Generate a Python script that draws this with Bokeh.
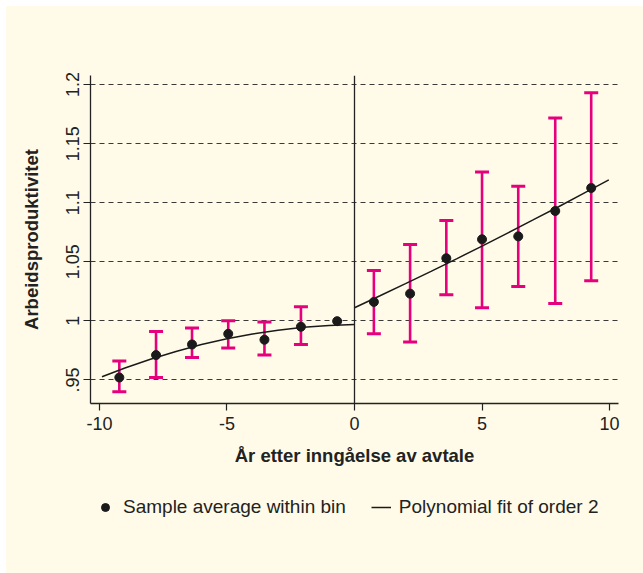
from bokeh.plotting import figure
from bokeh.models import (ColumnDataSource, Range1d, FixedTicker, Whisker, TeeHead,
                          Span, Legend, LegendItem, Spacer)
from bokeh.layouts import column, row
from bokeh.embed import file_html
from bokeh.resources import INLINE

# ---- data ----
bin_x = [-9.22, -7.78, -6.37, -4.95, -3.53, -2.10, -0.68,
         0.76, 2.18, 3.60, 5.00, 6.42, 7.87, 9.28]
bin_mean = [0.952, 0.971, 0.980, 0.989, 0.984, 0.995, 0.9997,
            1.016, 1.023, 1.053, 1.069, 1.0715, 1.093, 1.1125]
ci_upper = [0.966, 0.991, 0.994, 1.000, 0.999, 1.012, None,
            1.0426, 1.0647, 1.085, 1.126, 1.114, 1.1717, 1.193]
ci_lower = [0.940, 0.952, 0.969, 0.977, 0.971, 0.980, None,
            0.989, 0.982, 1.022, 1.011, 1.029, 1.0146, 1.034]

fit_left_x = [-9.9, -9, -8, -7, -6, -5, -4, -3, -2, -1, 0]
fit_left_y = [0.9527, 0.9601, 0.9675, 0.9741, 0.9799, 0.9848,
              0.9889, 0.9921, 0.9945, 0.9961, 0.9968]
fit_right_x = [0, 1, 2, 3, 4, 5, 6, 7, 8, 9, 9.97]
fit_right_y = [1.0111, 1.0212, 1.0315, 1.0419, 1.0525, 1.0633,
               1.0743, 1.0854, 1.0966, 1.1081, 1.1193]

y_ticks = [0.95, 1.0, 1.05, 1.1, 1.15, 1.2]
y_tick_labels = [".95", "1", "1.05", "1.1", "1.15", "1.2"]
x_ticks = [-10, -5, 0, 5, 10]
x_tick_labels = ["-10", "-5", "0", "5", "10"]

x_title = "År etter inngåelse av avtale"
y_title = "Arbeidsproduktivitet"
legend_labels = ["Sample average within bin", "Polynomial fit of order 2"]

BG = "#fffbe8"
PINK = "#e6007e"
INK = "#222222"
FONT = "Liberation Sans"

p = figure(width=637, height=480, output_backend="svg", toolbar_location=None,
           x_range=Range1d(-10.35, 10.35), y_range=Range1d(0.930, 1.2077),
           min_border_left=84, min_border_right=25, min_border_top=69,
           min_border_bottom=83)
p.background_fill_color = BG
p.border_fill_color = BG
p.outline_line_color = None

# grid
p.xgrid.grid_line_color = None
p.ygrid.ticker = FixedTicker(ticks=y_ticks)
p.ygrid.grid_line_color = "#3a3a3a"
p.ygrid.grid_line_width = 1
p.ygrid.grid_line_dash = "5 4"

# axes
p.xaxis.ticker = FixedTicker(ticks=x_ticks)
p.xaxis.major_label_overrides = {t: l for t, l in zip(x_ticks, x_tick_labels)}
p.yaxis.ticker = FixedTicker(ticks=y_ticks)
p.yaxis.major_label_overrides = {t: l for t, l in zip(y_ticks, y_tick_labels)}
p.yaxis.major_label_orientation = "vertical"
for ax in (p.xaxis, p.yaxis):
    ax.axis_line_color = INK
    ax.axis_line_width = 1.3
    ax.major_tick_line_color = INK
    ax.major_tick_line_width = 1.2
    ax.major_tick_out = 7
    ax.major_tick_in = 0
    ax.minor_tick_line_color = None
    ax.major_label_text_font = FONT
    ax.major_label_text_font_size = "18px"
    ax.major_label_text_color = INK
    ax.axis_label_text_font = FONT
    ax.axis_label_text_font_size = "18.5px"
    ax.axis_label_text_font_style = "bold"
    ax.axis_label_text_color = INK
p.xaxis.axis_label = x_title
p.yaxis.axis_label = y_title
p.xaxis.major_label_standoff = 6
p.yaxis.major_label_standoff = 4
p.xaxis.axis_label_standoff = 12
p.yaxis.axis_label_standoff = 22

# vertical cutoff line
p.add_layout(Span(location=0, dimension="height", line_color=INK, line_width=1.3))

# error bars
idx = [i for i, u in enumerate(ci_upper) if u is not None]
wsrc = ColumnDataSource(dict(x=[bin_x[i] for i in idx],
                             upper=[ci_upper[i] for i in idx],
                             lower=[ci_lower[i] for i in idx]))
p.add_layout(Whisker(base="x", upper="upper", lower="lower", source=wsrc,
                     line_color=PINK, line_width=2.6,
                     upper_head=TeeHead(size=14, line_color=PINK, line_width=3),
                     lower_head=TeeHead(size=14, line_color=PINK, line_width=3)))

# fit lines
p.line(fit_left_x, fit_left_y, line_color="#1a1a1a", line_width=1.5)
p.line(fit_right_x, fit_right_y, line_color="#1a1a1a", line_width=1.5)

# points
p.scatter(bin_x, bin_mean, size=9, fill_color="#1a1a1a", line_color="#1a1a1a")

# legend strip (separate figure below the chart; its frame aligns with the chart's)
lg = figure(width=637, height=87, output_backend="svg", toolbar_location=None,
            x_range=Range1d(0, 1), y_range=Range1d(0, 1),
            x_axis_type=None, y_axis_type=None,
            min_border_left=84, min_border_right=0, min_border_top=0, min_border_bottom=0)
lg.background_fill_color = BG
lg.border_fill_color = BG
lg.outline_line_color = None
lg.grid.grid_line_color = None
r_pts = lg.scatter([5], [5], size=9, fill_color="#1a1a1a", line_color="#1a1a1a")
r_fit = lg.line([5, 6], [5, 6], line_color="#1a1a1a", line_width=1.5)
legend = Legend(items=[LegendItem(label=legend_labels[0], renderers=[r_pts]),
                       LegendItem(label=legend_labels[1], renderers=[r_fit])],
                orientation="horizontal", location=(5, 55),
                background_fill_alpha=0, border_line_color=None,
                label_text_font=FONT, label_text_font_size="19px",
                label_text_color=INK, spacing=25, label_standoff=8,
                glyph_width=20, glyph_height=20, margin=0, padding=0)
lg.add_layout(legend)

inner = column(p, lg, styles={"background-color": BG})
layout = column(Spacer(height=6), row(Spacer(width=6), inner))
open("out.html", "w").write(file_html(layout, INLINE))
